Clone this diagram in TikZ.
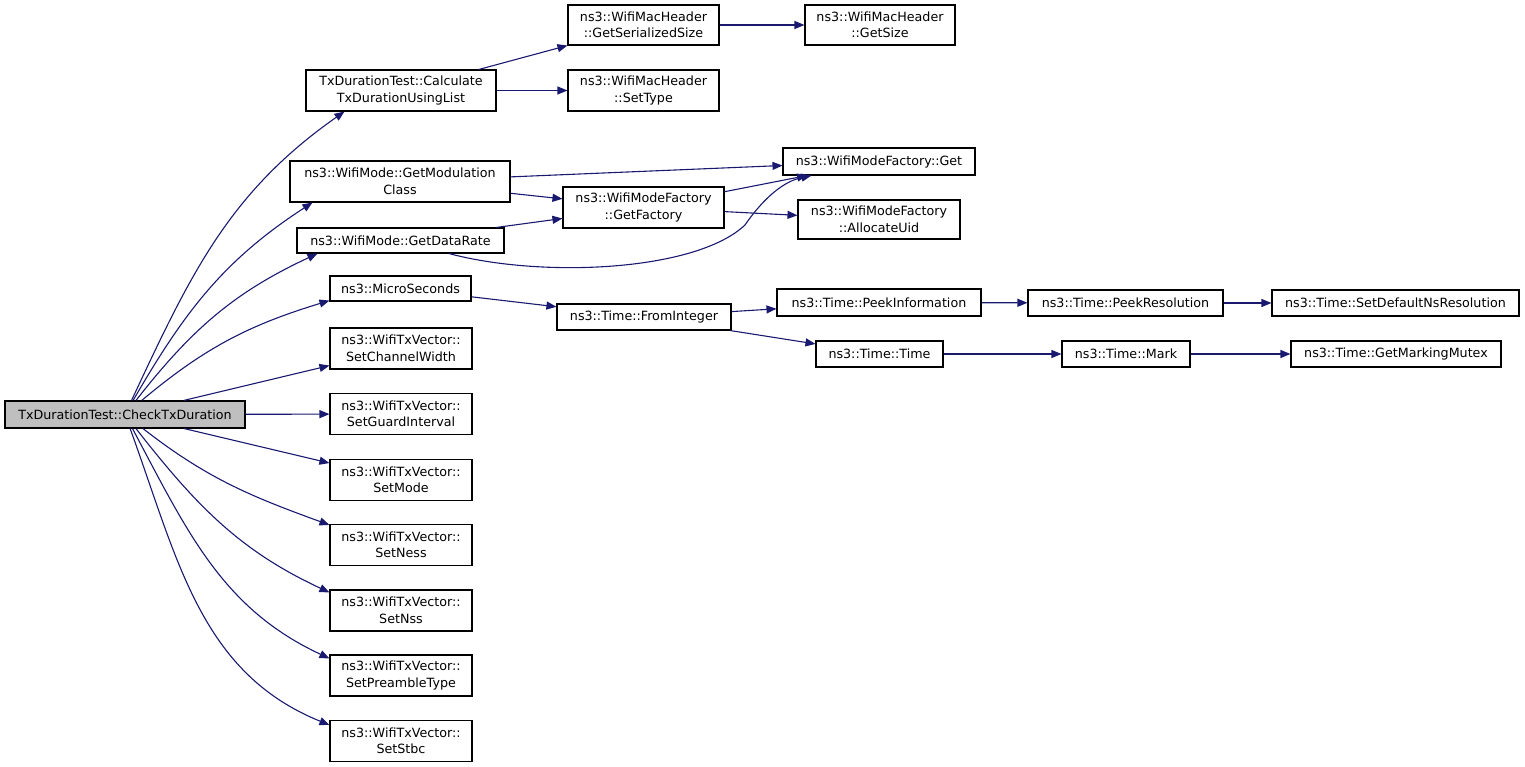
\documentclass[tikz,border=0pt]{standalone}
\usepackage{fontspec}
\setmainfont{DejaVu Sans}
\usetikzlibrary{arrows.meta}
\definecolor{cedge}{HTML}{191970}
\definecolor{croot}{HTML}{BFBFBF}
\tikzset{
  every picture/.style={x=1pt, y=1pt, line width=1.1pt},
  fn/.style={draw=black, fill=white, align=center, inner sep=0pt, font=\fontsize{12.7}{16.5}\selectfont},
  dims/.style 2 args={minimum width=#1pt, minimum height=#2pt},
  edge/.style={-{Triangle[length=10pt, width=8pt]}, draw=cedge, line width=1.1pt},
}

\begin{document}
\begin{tikzpicture}
  \useasboundingbox (0,0) rectangle (1525,-767);
  \node[fn, dims={240}{27}, fill=croot] (root) at (125,-414.5) {TxDurationTest::CheckTxDuration};
  % callees of the test
  \node[fn, dims={190}{41}] (calc) at (401,-90.5) {TxDurationTest::Calculate\\TxDurationUsingList};
  \node[fn, dims={220}{41}] (gmc) at (400,-181.5) {ns3::WifiMode::GetModulation\\Class};
  \node[fn, dims={207}{25}] (gdr) at (400.5,-240.5) {ns3::WifiMode::GetDataRate};
  \node[fn, dims={141}{25}] (micro) at (400.5,-288.5) {ns3::MicroSeconds};
  \foreach \nm/\y/\lbl in {cw/348.5/SetChannelWidth, gi/414/SetGuardInterval, mode/480/SetMode,
      ness/545/SetNess, nss/610.5/SetNss, pre/675.5/SetPreambleType, stbc/741/SetStbc}
    \node[fn, dims={142}{41}] (\nm) at (401,-\y) {ns3::WifiTxVector::\\\lbl};
  % second level
  \node[fn, dims={151}{40}] (gss) at (643.5,-25) {ns3::WifiMacHeader\\::GetSerializedSize};
  \node[fn, dims={151}{41}] (stype) at (643.5,-90.5) {ns3::WifiMacHeader\\::SetType};
  \node[fn, dims={150}{40}] (gsize) at (880,-25) {ns3::WifiMacHeader\\::GetSize};
  \node[fn, dims={192}{27}] (get) at (879,-161.5) {ns3::WifiModeFactory::Get};
  \node[fn, dims={161}{41}] (gfac) at (643.5,-207.5) {ns3::WifiModeFactory\\::GetFactory};
  \node[fn, dims={162}{39}] (alloc) at (879,-219.5) {ns3::WifiModeFactory\\::AllocateUid};
  \node[fn, dims={174}{26}] (fint) at (644,-317) {ns3::Time::FromInteger};
  \node[fn, dims={204}{27}] (peek) at (879,-302.5) {ns3::Time::PeekInformation};
  \node[fn, dims={127}{26}] (ttime) at (879.5,-354) {ns3::Time::Time};
  \node[fn, dims={195}{26}] (pres) at (1125.5,-303) {ns3::Time::PeekResolution};
  \node[fn, dims={247}{26}] (sdef) at (1395.5,-303) {ns3::Time::SetDefaultNsResolution};
  \node[fn, dims={128}{26}] (mark) at (1126,-354) {ns3::Time::Mark};
  \node[fn, dims={210}{26}] (mutex) at (1396,-354) {ns3::Time::GetMarkingMutex};

  % fan out of the root
  \draw[edge] (root) to[out=65, in=-145] ([xshift=39pt]calc.south west);
  \draw[edge] (root) to[out=60, in=-147] ([xshift=23pt]gmc.south west);
  \draw[edge] (root) to[out=52, in=-155] ([xshift=21pt]gdr.south west);
  \draw[edge] (root) to[out=40, in=-163] ([yshift=1pt]micro.south west);
  \draw[edge] (root) -- (cw);
  \draw[edge] (root) -- (gi);
  \draw[edge] (root) -- (mode);
  \draw[edge] (root) to[out=-38, in=160] ([yshift=-1pt]ness.north west);
  \draw[edge] (root) to[out=-52, in=155] ([yshift=-3pt]nss.north west);
  \draw[edge] (root) to[out=-62, in=155] ([yshift=-4pt]pre.north west);
  \draw[edge] (root) to[out=-70, in=158] ([yshift=-5pt]stbc.north west);
  % deeper calls
  \draw[edge] (calc) -- (gss);
  \draw[edge] (calc) -- (stype);
  \draw[edge] (gss) -- (gsize);
  \draw[edge] (gmc) -- (get);
  \draw[edge] (gmc) -- (gfac);
  \draw[edge] (gdr) -- (gfac);
  \draw[edge] (gdr) .. controls (540,-278) and (695,-272) .. (745,-225)
    .. controls (765,-196) and (785,-181) .. ([xshift=29pt]get.south west);
  \draw[edge] (gfac) -- (get);
  \draw[edge] (gfac) -- (alloc);
  \draw[edge] (micro) -- (fint);
  \draw[edge] (fint) -- (peek);
  \draw[edge] (fint) -- (ttime);
  \draw[edge] (peek) -- (pres);
  \draw[edge] (pres) -- (sdef);
  \draw[edge] (ttime) -- (mark);
  \draw[edge] (mark) -- (mutex);
\end{tikzpicture}
\end{document}
